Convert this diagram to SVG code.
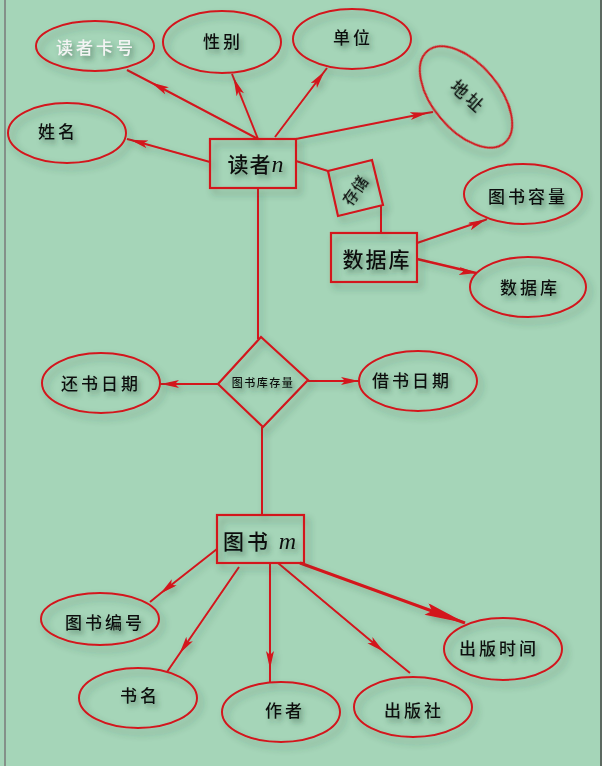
<svg xmlns="http://www.w3.org/2000/svg" width="611" height="766" viewBox="0 0 611 766">
<style>
.bg{fill:#A5D5B8}
.sh{fill:none;stroke:#D3141E;stroke-width:2;filter:url(#ds)}
.box{fill:none;stroke:#D3141E;stroke-width:2.2;filter:url(#ds)}
.t{font-family:"Noto Sans CJK SC","Noto Sans",sans-serif;font-size:17px;font-weight:500;fill:#111;text-anchor:middle;letter-spacing:3px;filter:url(#ts)}
.tb{font-size:21px;letter-spacing:2px}
.ln{fill:none;stroke:#D3141E;stroke-width:2}
.ar{marker-mid:url(#ah)}
.it{font-family:"Liberation Serif",serif;font-style:italic;font-weight:normal}
</style>
<defs>
<filter id="ds" x="-30%" y="-30%" width="160%" height="170%">
<feDropShadow dx="4" dy="5" stdDeviation="3.5" flood-color="#2a4a38" flood-opacity="0.45"/>
</filter>
<filter id="ts" x="-30%" y="-40%" width="160%" height="190%">
<feDropShadow dx="3" dy="4" stdDeviation="2.5" flood-color="#2a4a38" flood-opacity="0.5"/>
</filter>
<filter id="ls" filterUnits="userSpaceOnUse" x="0" y="0" width="611" height="766">
<feDropShadow dx="3" dy="4" stdDeviation="3" flood-color="#2a4a38" flood-opacity="0.3"/>
</filter>
<marker id="ah" markerUnits="userSpaceOnUse" markerWidth="18" markerHeight="9" refX="17" refY="4" orient="auto">
<path d="M0,0 L18,4 L0,8 L4,4 z" fill="#D3141E"/>
</marker>
<marker id="ahb" markerUnits="userSpaceOnUse" markerWidth="42" markerHeight="14" refX="41" refY="6" orient="auto">
<path d="M0,0 L42,6 L0,12 L6,6 z" fill="#D3141E"/>
</marker>
</defs>
<rect x="0" y="0" width="611" height="766" class="bg"/>
<rect x="602" y="0" width="9" height="766" fill="#ffffff"/>
<line x1="5" y1="0" x2="5" y2="766" stroke="#7a7a7a" stroke-width="1.5"/>
<line x1="601" y1="0" x2="601" y2="766" stroke="#444" stroke-width="1.5"/>

<g id="connectors" filter="url(#ls)">
<polyline class="ln ar" points="258,139 152,83 127,70"/>
<polyline class="ln ar" points="258,139 234,79 232,74"/>
<polyline class="ln ar" points="275,137 324,72 327,68"/>
<polyline class="ln ar" points="296,139 427,113 433,112"/>
<polyline class="ln ar" points="210,162 131,140 127,139"/>
<line class="ln" x1="296" y1="161" x2="328" y2="171"/>
<line class="ln" x1="381" y1="205" x2="381" y2="233"/>
<line class="ln" x1="258" y1="188" x2="258" y2="339"/>
<polyline class="ln ar" points="218,384 162,384 160,384"/>
<polyline class="ln ar" points="308,381 358,381 359,381"/>
<line class="ln" x1="262" y1="427" x2="262" y2="515"/>
<polyline class="ln ar" points="417,243 485,220 487,219"/>
<polyline class="ln ar" points="417,259 476,273 477,273" style="stroke-width:2.6"/>
<polyline class="ln ar" points="217,549 161,593 150,602"/>
<polyline class="ln ar" points="239,567 180,653 167,672"/>
<polyline class="ln ar" points="270,563 270,668 270,682"/>
<polyline class="ln ar" points="278,563 383,651 410,673"/>
<line class="ln" x1="300" y1="563" x2="465" y2="623" style="stroke-width:3;marker-end:url(#ahb)"/>
</g>

<g id="reader">
<rect class="box" x="210" y="139" width="86" height="49"/>
<text class="t tb" x="256" y="172" style="letter-spacing:1px">读者<tspan class="it" style="font-size:24px">n</tspan></text>
</g>
<g id="store">
<polygon class="box" points="328,171 372,160 383,205 338,216"/>
<text class="t" x="355" y="196" transform="rotate(-55 355 190)" style="font-size:15px;letter-spacing:1px">存储</text>
</g>
<g id="database">
<rect class="box" x="331" y="233" width="86" height="49"/>
<text class="t tb" x="377" y="267">数据库</text>
</g>
<g id="inventory">
<polygon class="box" points="261,337 308,380 263,427 218,384"/>
<text class="t" x="263" y="387" style="font-size:11px;letter-spacing:1.5px">图书库存量</text>
</g>
<g id="book">
<rect class="box" x="217" y="515" width="87" height="48"/>
<text class="t tb" x="261" y="549" style="letter-spacing:3px">图书 <tspan class="it" style="font-size:24px">m</tspan></text>
</g>

<g id="a-card"><ellipse class="sh" cx="95" cy="46" rx="59" ry="25"/><text class="t" x="96" y="54" style="fill:#f4f4f4">读者卡号</text></g>
<g id="a-sex"><ellipse class="sh" cx="222" cy="42" rx="59" ry="31"/><text class="t" x="223" y="48">性别</text></g>
<g id="a-unit"><ellipse class="sh" cx="352" cy="39" rx="59" ry="30"/><text class="t" x="353" y="44">单位</text></g>
<g id="a-addr"><ellipse class="sh" cx="466" cy="97" rx="60" ry="33" transform="rotate(50 466 97)"/><text class="t" x="468" y="103" transform="rotate(42 468 97)">地址</text></g>
<g id="a-name"><ellipse class="sh" cx="67" cy="133" rx="59" ry="30"/><text class="t" x="58" y="138">姓名</text></g>
<g id="a-cap"><ellipse class="sh" cx="523" cy="194" rx="59" ry="30"/><text class="t" x="528" y="203">图书容量</text></g>
<g id="a-db"><ellipse class="sh" cx="528" cy="287" rx="58" ry="30"/><text class="t" x="530" y="294">数据库</text></g>
<g id="a-return"><ellipse class="sh" cx="101" cy="383" rx="59" ry="30"/><text class="t" x="101" y="390">还书日期</text></g>
<g id="a-borrow"><ellipse class="sh" cx="418" cy="381" rx="59" ry="30"/><text class="t" x="412" y="387">借书日期</text></g>
<g id="a-no"><ellipse class="sh" cx="100" cy="619" rx="59" ry="26"/><text class="t" x="105" y="629">图书编号</text></g>
<g id="a-title"><ellipse class="sh" cx="138" cy="698" rx="59" ry="30"/><text class="t" x="140" y="702">书名</text></g>
<g id="a-author"><ellipse class="sh" cx="281" cy="712" rx="59" ry="30"/><text class="t" x="285" y="717">作者</text></g>
<g id="a-press"><ellipse class="sh" cx="413" cy="707" rx="59" ry="30"/><text class="t" x="414" y="717">出版社</text></g>
<g id="a-ptime"><ellipse class="sh" cx="503" cy="649" rx="59" ry="31"/><text class="t" x="499" y="655">出版时间</text></g>
</svg>
